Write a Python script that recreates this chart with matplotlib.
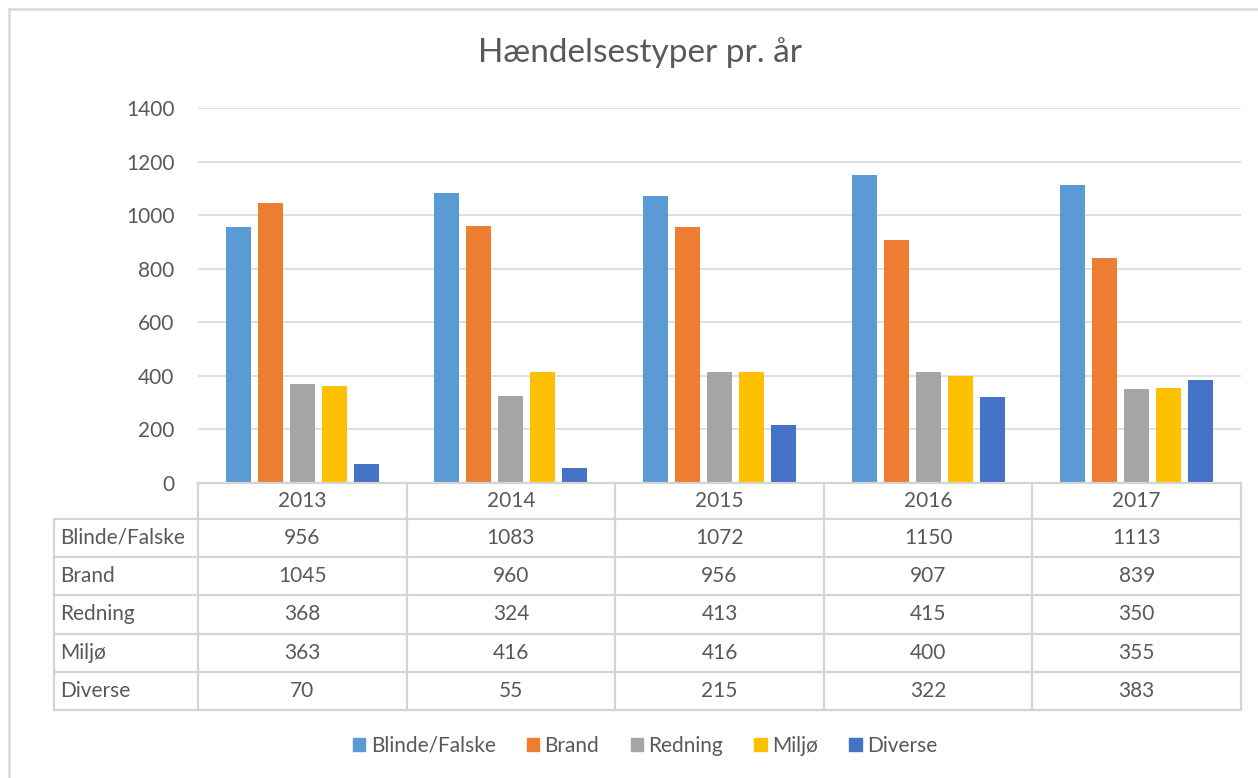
import matplotlib.pyplot as plt
import matplotlib.patches as mpatches
import numpy as np

years = ["2013", "2014", "2015", "2016", "2017"]
series = ["Blinde/Falske", "Brand", "Redning", "Miljø", "Diverse"]
blinde = [956, 1083, 1072, 1150, 1113]
brand = [1045, 960, 956, 907, 839]
redning = [368, 324, 413, 415, 350]
miljo = [363, 416, 416, 400, 355]
diverse = [70, 55, 215, 322, 383]
colors = ["#5B9BD5", "#ED7D31", "#A5A5A5", "#FFC000", "#4472C4"]

plt.rcParams["font.family"] = ["Lato", "DejaVu Sans"]
txt = "#595959"
grid = "#D9D9D9"

W, H = 1258, 778
fig = plt.figure(figsize=(W / 100, H / 100), dpi=100)

# plot area in pixels
left, right, top, base = 198, 1241, 108, 483
ax = fig.add_axes([left / W, 1 - base / H, (right - left) / W, (base - top) / H])
data = [blinde, brand, redning, miljo, diverse]
x = np.arange(len(years))
pitch = 0.1534
width = 0.12
for j, vals in enumerate(data):
    ax.bar(x + (j - 2) * pitch, vals, width, color=colors[j], zorder=3)
ax.set_xlim(-0.5, len(years) - 0.5)
ax.set_ylim(0, 1400)
ax.set_yticks(range(0, 1401, 200))
ax.tick_params(axis="y", length=0, pad=17, labelsize=15, labelcolor=txt)
ax.set_xticks([])
for s in ax.spines.values():
    s.set_visible(False)
ax.yaxis.grid(True, color=grid, linewidth=1.2, zorder=0)

# overlay in pixel coords for the data table and chart border
ov = fig.add_axes([0, 0, 1, 1], facecolor="none")
ov.set_xlim(0, W)
ov.set_ylim(H, 0)
ov.axis("off")

ov.plot([9, W], [9, 9], color=grid, lw=1.8)
ov.plot([9, 9], [9, H], color=grid, lw=1.8)

cols = [left + i * (right - left) / len(years) for i in range(len(years) + 1)]
rows = [483, 519, 557, 595, 634, 672, 710]
lab_left = 54
lc = "#D4D4D4"
lw = 1.6
# horizontal lines
ov.plot([left, right], [rows[0], rows[0]], color=lc, lw=lw)
for r in rows[1:]:
    ov.plot([lab_left, right], [r, r], color=lc, lw=lw)
# vertical lines
ov.plot([lab_left, lab_left], [rows[1], rows[-1]], color=lc, lw=lw)
for c in cols:
    ov.plot([c, c], [rows[0], rows[-1]], color=lc, lw=lw)

for i, yr in enumerate(years):
    cx = (cols[i] + cols[i + 1]) / 2
    ov.text(cx, (rows[0] + rows[1]) / 2, yr, ha="center", va="center",
            fontsize=15, color=txt)
for k, name in enumerate(series):
    cy = (rows[k + 1] + rows[k + 2]) / 2
    ov.text(lab_left + 6, cy, name, ha="left", va="center", fontsize=15, color=txt)
    for i in range(len(years)):
        cx = (cols[i] + cols[i + 1]) / 2
        ov.text(cx, cy, str(data[k][i]), ha="center", va="center",
                fontsize=15, color=txt)

ov.text(640, 53, "Hændelsestyper pr. år", ha="center", va="center",
        fontsize=24, color=txt)

handles = [mpatches.Patch(color=colors[j], label=series[j]) for j in range(len(series))]
fig.legend(handles=handles, loc="center", bbox_to_anchor=(645 / W, 1 - 746 / H),
           ncol=5, frameon=False, fontsize=15, labelcolor=txt,
           handlelength=0.6, handleheight=0.6, handletextpad=0.25, columnspacing=1.5)

fig.savefig("out.png", dpi=100)
